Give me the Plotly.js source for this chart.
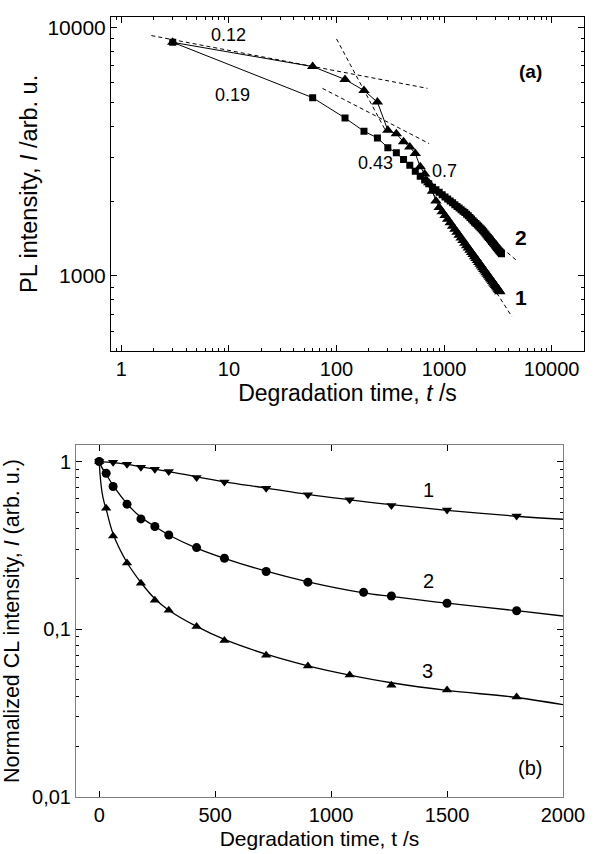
<!DOCTYPE html>
<html><head><meta charset="utf-8">
<script src="https://cdn.plot.ly/plotly-3.0.1.min.js"></script>
<style>html,body{margin:0;padding:0;background:#fff}#chart{width:596px;height:854px}</style>
</head><body><div id="chart"></div>
<script>
// ---------- Panel (a): PL intensity vs degradation time (log-log) ----------
var timeSq = [3,60,120,180,240,300,360,420,480,540,600,660,720,780,840,900,960,1020,1080,1140,1200,1260,1320,1380,1440,1500,1560,1620,1680,1740,1800,1860,1920,1980,2040,2100,2160,2220,2280,2340,2400,2460,2520,2580,2640,2700,2760,2820,2880,2940,3000,3060,3120,3180,3240,3300,3360,3420];
var plSq = [8700,5210,4315,3818,3590,3280,3130,2940,2785,2636,2518,2428,2349,2275,2220,2169,2121,2078,2038,2002,1967,1934,1903,1874,1847,1821,1797,1771,1744,1717,1692,1668,1645,1623,1602,1582,1563,1545,1526,1505,1484,1465,1445,1427,1409,1393,1376,1360,1345,1330,1316,1302,1288,1275,1262,1250,1238,1226];

var timeTri = [3,60,120,180,240,300,360,420,480,540,600,660,720,780,840,900,960,1020,1080,1140,1200,1260,1320,1380,1440,1500,1560,1620,1680,1740,1800,1860,1920,1980,2040,2100,2160,2220,2280,2340,2400,2460,2520,2580,2640,2700,2760,2820,2880,2940,3000,3060,3120,3180,3240,3300];
var plTri = [8700,6950,6170,5570,5000,3850,3730,3460,3300,3105,2750,2570,2370,2190,2000,1884,1812,1748,1689,1635,1585,1539,1497,1457,1421,1387,1354,1323,1295,1268,1243,1218,1195,1174,1152,1133,1114,1096,1079,1062,1046,1030,1016,1001,988,974,962,949,937,926,915,904,893,883,873,864];

// power-law guide lines (dashed), endpoints
var guideA_t = [1.9, 700],   guideA_I = [9260, 5680];
var guideB_t = [100, 285],   guideB_I = [8980, 3850];
var guideC_t = [74, 727],    guideC_I = [5680, 3405];
var guideD_t = [700, 4665],  guideD_I = [2330, 1159];
var guideE_t = [720, 4277],  guideE_I = [2281, 685];

var xTicksA = [1,10,100,1000,10000];
var xTickTextA = ['1','10','100','1000','10000'];
var yTicksA = [1000,10000];
var yTickTextA = ['1000','10000'];

// ---------- Panel (b): normalized CL intensity vs time ----------
var t1 = [0,60,120,180,240,300,420,540,720,900,1080,1260,1500,1800];
var cl1 = [1,0.99,0.965,0.926,0.901,0.872,0.803,0.754,0.694,0.633,0.591,0.547,0.515,0.474];
var t2 = [0,30,60,120,180,240,300,420,540,720,900,1140,1260,1500,1800];
var cl2 = [1,0.852,0.71,0.557,0.455,0.41,0.365,0.307,0.265,0.221,0.191,0.166,0.158,0.143,0.129];
var t3 = [0,30,60,120,180,240,300,420,540,720,900,1080,1260,1500,1800];
var cl3 = [1,0.527,0.36,0.248,0.188,0.149,0.13,0.104,0.0856,0.070,0.0605,0.0533,0.0464,0.0434,0.0395];

// fitted curves
var fit1_t = [0,60,120,180,240,300,420,540,720,900,1080,1260,1500,1800,2000];
var fit1_v = [1,0.985,0.962,0.93,0.9,0.872,0.81,0.757,0.695,0.637,0.592,0.553,0.512,0.472,0.453];
var fit2_t = [0,10,30,60,120,180,240,300,420,540,720,900,1140,1260,1500,1800,2000];
var fit2_v = [1,0.93,0.84,0.72,0.56,0.465,0.41,0.365,0.305,0.265,0.222,0.192,0.165,0.157,0.143,0.129,0.12];
var fit3_t = [0,5,12,20,30,60,120,180,240,300,420,540,720,900,1080,1260,1500,1800,2000];
var fit3_v = [1,0.8,0.66,0.58,0.52,0.37,0.25,0.19,0.152,0.13,0.104,0.087,0.071,0.0605,0.0533,0.048,0.0432,0.0392,0.0355];

var xTicksB = [0,500,1000,1500,2000];
var yTicksB = [0.01,0.1,1];
var yTickTextB = ['0,01','0,1','1'];

function mk(x, y, sym, size, xa, ya, withLine) {
  return {x:x, y:y, xaxis:xa, yaxis:ya, type:'scatter',
    mode: withLine ? 'lines+markers' : 'markers',
    line:{color:'#000', width:1},
    marker:{symbol:sym, size:size, color:'#000'}, showlegend:false, hoverinfo:'skip'};
}
function dash(x, y) {
  return {x:x, y:y, xaxis:'x', yaxis:'y', type:'scatter', mode:'lines',
    line:{color:'#000', width:1, dash:'4px,3px'}, showlegend:false, hoverinfo:'skip'};
}
function fit(x, y) {
  return {x:x, y:y, xaxis:'x2', yaxis:'y2', type:'scatter', mode:'lines',
    line:{color:'#000', width:1.3, shape:'spline', smoothing:1}, showlegend:false, hoverinfo:'skip'};
}

var data = [
  dash(guideA_t, guideA_I), dash(guideB_t, guideB_I), dash(guideC_t, guideC_I),
  dash(guideD_t, guideD_I), dash(guideE_t, guideE_I),
  mk(timeSq, plSq, 'square', 7, 'x', 'y', true),
  mk(timeTri, plTri, 'triangle-up', 10, 'x', 'y', true),
  fit(fit1_t, fit1_v), fit(fit2_t, fit2_v), fit(fit3_t, fit3_v),
  mk(t1, cl1, 'triangle-down', 9, 'x2', 'y2', false),
  mk(t2, cl2, 'circle', 9, 'x2', 'y2', false),
  mk(t3, cl3, 'triangle-up', 9, 'x2', 'y2', false)
];

function lg(v){return Math.log10(v);}
function minorLog(lo, hi) {
  var out = [];
  for (var e = lo; e <= hi; e++) for (var d = 2; d <= 9; d++) out.push(d*Math.pow(10,e));
  return out;
}
var FONT = 'Liberation Sans, Arial, sans-serif';
var W = 596, H = 854;
function px(x){return x/W;}
function py(y){return 1 - y/H;}

var baseAxis = {showline:true, mirror:'allticks', linecolor:'#000', linewidth:1,
  ticks:'inside', ticklen:6, tickwidth:1, tickcolor:'#000', showgrid:false, zeroline:false,
  tickfont:{family:FONT, size:21, color:'#000'}};

var layout = {
  width:W, height:H, autosize:false,
  margin:{l:0, r:0, t:0, b:0},
  paper_bgcolor:'#fff', plot_bgcolor:'#fff',
  font:{family:FONT, color:'#000'},
  xaxis: Object.assign({}, baseAxis, {
    type:'log', range:[lg(0.8), lg(20000)], domain:[px(111), px(584)], anchor:'y',
    tickfont:{family:FONT, size:20, color:'#000'},
    tickmode:'array', tickvals:xTicksA, ticktext:xTickTextA,
    minor:{tickmode:'array', tickvals:[0.9].concat(minorLog(0,3)), ticks:'inside', ticklen:3, tickcolor:'#000'},
    title:{text:'Degradation time, <i>t</i> /s', font:{family:FONT, size:23, color:'#000'}, standoff:2}
  }),
  yaxis: Object.assign({}, baseAxis, {
    type:'log', range:[lg(500), lg(11000)], domain:[py(350.7), py(17)], anchor:'x',
    tickmode:'array', tickvals:yTicksA, ticktext:yTickTextA,
    minor:{tickmode:'array', tickvals:minorLog(2,3), ticks:'inside', ticklen:3, tickcolor:'#000'},
    title:{text:'PL intensity, <i>I</i> /arb. u.', font:{family:FONT, size:23.5, color:'#000'}, standoff:3}
  }),
  xaxis2: Object.assign({}, baseAxis, {
    type:'linear', range:[-100, 2000], domain:[px(76), px(563)], anchor:'y2',
    linecolor:'#808080', tickfont:{family:FONT, size:20, color:'#000'},
    tickmode:'array', tickvals:xTicksB,
    title:{text:'Degradation time, t /s', font:{family:FONT, size:21, color:'#000'}, standoff:6}
  }),
  yaxis2: Object.assign({}, baseAxis, {
    type:'log', range:[-2, lg(1.255)], domain:[py(797), py(445)], anchor:'x2',
    linecolor:'#808080', tickfont:{family:FONT, size:20, color:'#000'},
    tickmode:'array', tickvals:yTicksB, ticktext:yTickTextB,
    minor:{tickmode:'array', tickvals:minorLog(-2,0), ticks:'inside', ticklen:3, tickcolor:'#000'},
    title:{text:'Normalized CL intensity, <i>I</i> (arb. u.)', font:{family:FONT, size:21.5, color:'#000'}, standoff:6}
  }),
  annotations: [
    {text:'0.12', x:px(228), y:py(35), size:18},
    {text:'0.19', x:px(232), y:py(95), size:18},
    {text:'0.43', x:px(375), y:py(163), size:18},
    {text:'0.7', x:px(444), y:py(171), size:18},
    {text:'<b>(a)</b>', x:px(530), y:py(72), size:19},
    {text:'<b>2</b>', x:px(521), y:py(238), size:21},
    {text:'<b>1</b>', x:px(521), y:py(298), size:21},
    {text:'1', x:px(428), y:py(490), size:20},
    {text:'2', x:px(428), y:py(581), size:20},
    {text:'3', x:px(427), y:py(671), size:20},
    {text:'(b)', x:px(530), y:py(768), size:20}
  ].map(function(a){
    return {text:a.text, x:a.x, y:a.y, xref:'paper', yref:'paper', showarrow:false,
      xanchor:'center', yanchor:'middle', font:{family:FONT, size:a.size||17, color:'#000'}};
  })
};

Plotly.newPlot('chart', data, layout, {staticPlot:true, displayModeBar:false});
</script></body></html>
